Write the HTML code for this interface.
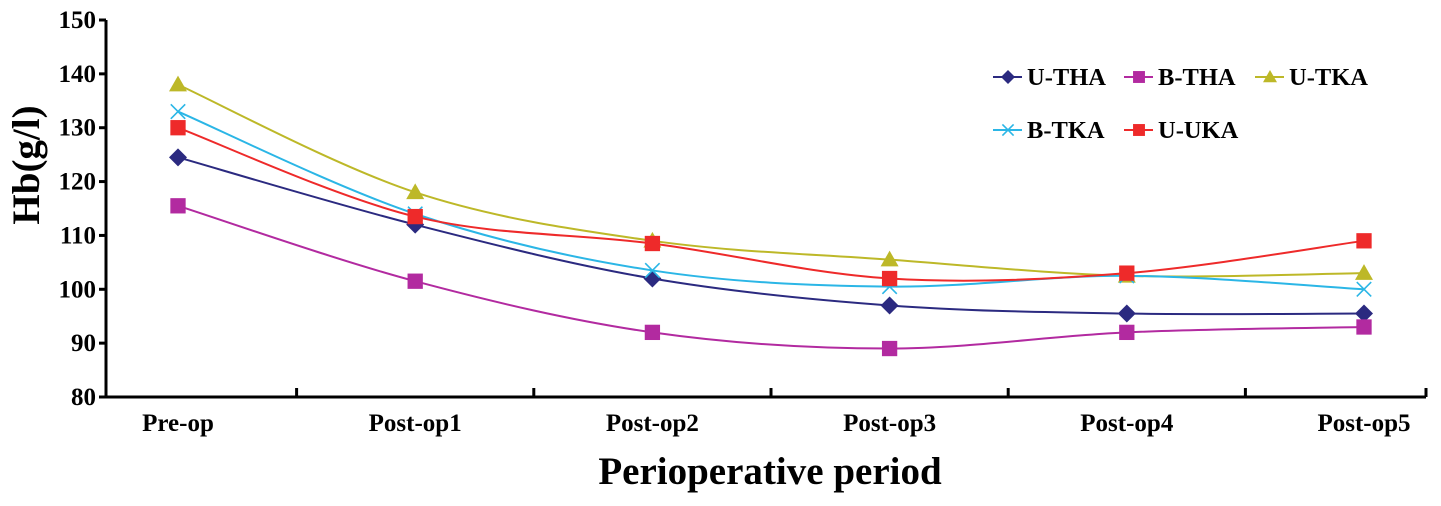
<!DOCTYPE html>
<html><head><meta charset="utf-8"><style>
html,body{margin:0;padding:0;background:#fff;}
svg{display:block;font-family:"Liberation Serif",serif;font-weight:bold;}
</style></head><body>
<svg id="chart" width="1441" height="506" viewBox="0 0 1441 506">
<g id="axes"></g>
<g id="series"></g>
<g id="legend"></g>
<text x="30" y="165" transform="rotate(-90 30 165)" text-anchor="middle" dominant-baseline="middle" font-size="39">Hb(g/l)</text>
<text x="770" y="484" text-anchor="middle" font-size="39">Perioperative period</text>
</svg>
<script>
const categories = ["Pre-op","Post-op1","Post-op2","Post-op3","Post-op4","Post-op5"];
const yTicks = [80,90,100,110,120,130,140,150];
const seriesNames = ["U-THA","B-THA","U-TKA","B-TKA","U-UKA"];
const uTHA = [124.5,112,102,97,95.5,95.5];
const bTHA = [115.5,101.5,92,89,92,93];
const uTKA = [138,118,109,105.5,102.5,103];
const bTKA = [133,114,103.5,100.5,102.5,100];
const uUKA = [130,113.5,108.5,102,103,109];

const NS="http://www.w3.org/2000/svg";
function mk(tag,attrs,parent){const e=document.createElementNS(NS,tag);for(const k in attrs)e.setAttribute(k,attrs[k]);parent.appendChild(e);return e;}
const x0=106,x1=1426,yTop=20,yBot=397;
function yS(v){return yBot-(v-80)/(150-80)*(yBot-yTop);}
function xS(i){return 178+i*237.2;}

const axes=document.getElementById('axes');
let yAxis=mk('line',{x1:x0,y1:yTop,x2:x0,y2:yBot,stroke:'#000','stroke-width':3},axes);


let xAxis=mk('line',{x1:x0-1.5,y1:yBot,x2:x1,y2:yBot,stroke:'#000','stroke-width':3},axes);


yTicks.forEach(v=>{
  const t=mk('line',{x1:x0-7,y1:yS(v),x2:x0,y2:yS(v),stroke:'#000','stroke-width':3},axes);
  
  
  const l=mk('text',{x:x0-10,y:yS(v)+8,'text-anchor':'end','font-size':25},axes);
  l.textContent=v;
  
  
});
categories.forEach((c,i)=>{
  const l=mk('text',{x:xS(i),y:431,'text-anchor':'middle','font-size':25},axes);
  l.textContent=c;
  
  
  const tx = i<categories.length-1 ? (xS(i)+xS(i+1))/2 : x1;
  const t=mk('line',{x1:tx,y1:yBot,x2:tx,y2:yBot-9,stroke:'#000','stroke-width':3},axes);
  
  
});

const colors=['#2b2a80','#b22aa0','#bdb828','#2bb6e6','#ee2a2a'];
const markers=['diamond','square','triangle','x','square'];
const data=[uTHA,bTHA,uTKA,bTKA,uUKA];

function smoothPath(pts){
  let d=`M${pts[0][0]},${pts[0][1]}`;const t=0.5/3*2;
  for(let i=0;i<pts.length-1;i++){
    const p0=pts[Math.max(i-1,0)],p1=pts[i],p2=pts[i+1],p3=pts[Math.min(i+2,pts.length-1)];
    const c1=[p1[0]+(p2[0]-p0[0])*t/2,p1[1]+(p2[1]-p0[1])*t/2];
    const c2=[p2[0]-(p3[0]-p1[0])*t/2,p2[1]-(p3[1]-p1[1])*t/2];
    d+=` C${c1[0]},${c1[1]} ${c2[0]},${c2[1]} ${p2[0]},${p2[1]}`;
  }
  return d;
}
function marker(type,x,y,color,parent,s){
  let e;
  if(type==='diamond') e=mk('polygon',{points:`${x},${y-s} ${x+s},${y} ${x},${y+s} ${x-s},${y}`,fill:color},parent);
  else if(type==='square') e=mk('rect',{x:x-s*0.85,y:y-s*0.85,width:s*1.7,height:s*1.7,fill:color},parent);
  else if(type==='triangle') e=mk('polygon',{points:`${x},${y-s} ${x+s},${y+s*0.75} ${x-s},${y+s*0.75}`,fill:color},parent);
  else e=mk('path',{d:`M${x-s*0.8},${y-s*0.8}L${x+s*0.8},${y+s*0.8}M${x-s*0.8},${y+s*0.8}L${x+s*0.8},${y-s*0.8}`,stroke:color,'stroke-width':1.6,fill:'none'},parent);
  return e;
}
const sg=document.getElementById('series');
data.forEach((vals,si)=>{
  const g=mk('g',{},sg);
  
  
  const pts=vals.map((v,i)=>[xS(i),yS(v)]);
  const p=mk('path',{d:smoothPath(pts),fill:'none',stroke:colors[si],'stroke-width':2},g);
  
  
  pts.forEach(pt=>{
    const m=marker(markers[si],pt[0],pt[1],colors[si],g,9);
    
    
  });
});
const lg=document.getElementById('legend');
const lpos=[[993,77],[1124,77],[1255,77],[993,130],[1124,130]];
seriesNames.forEach((n,i)=>{
  const g=mk('g',{},lg);
  
  
  const [lx,ly]=lpos[i];
  mk('line',{x1:lx,y1:ly,x2:lx+29,y2:ly,stroke:colors[i],'stroke-width':2},g);
  marker(markers[i],lx+15,ly,colors[i],g,7);
  const t=mk('text',{x:lx+34,y:ly+8,'font-size':24.5},g);
  t.textContent=n;
});
</script>
</body></html>
